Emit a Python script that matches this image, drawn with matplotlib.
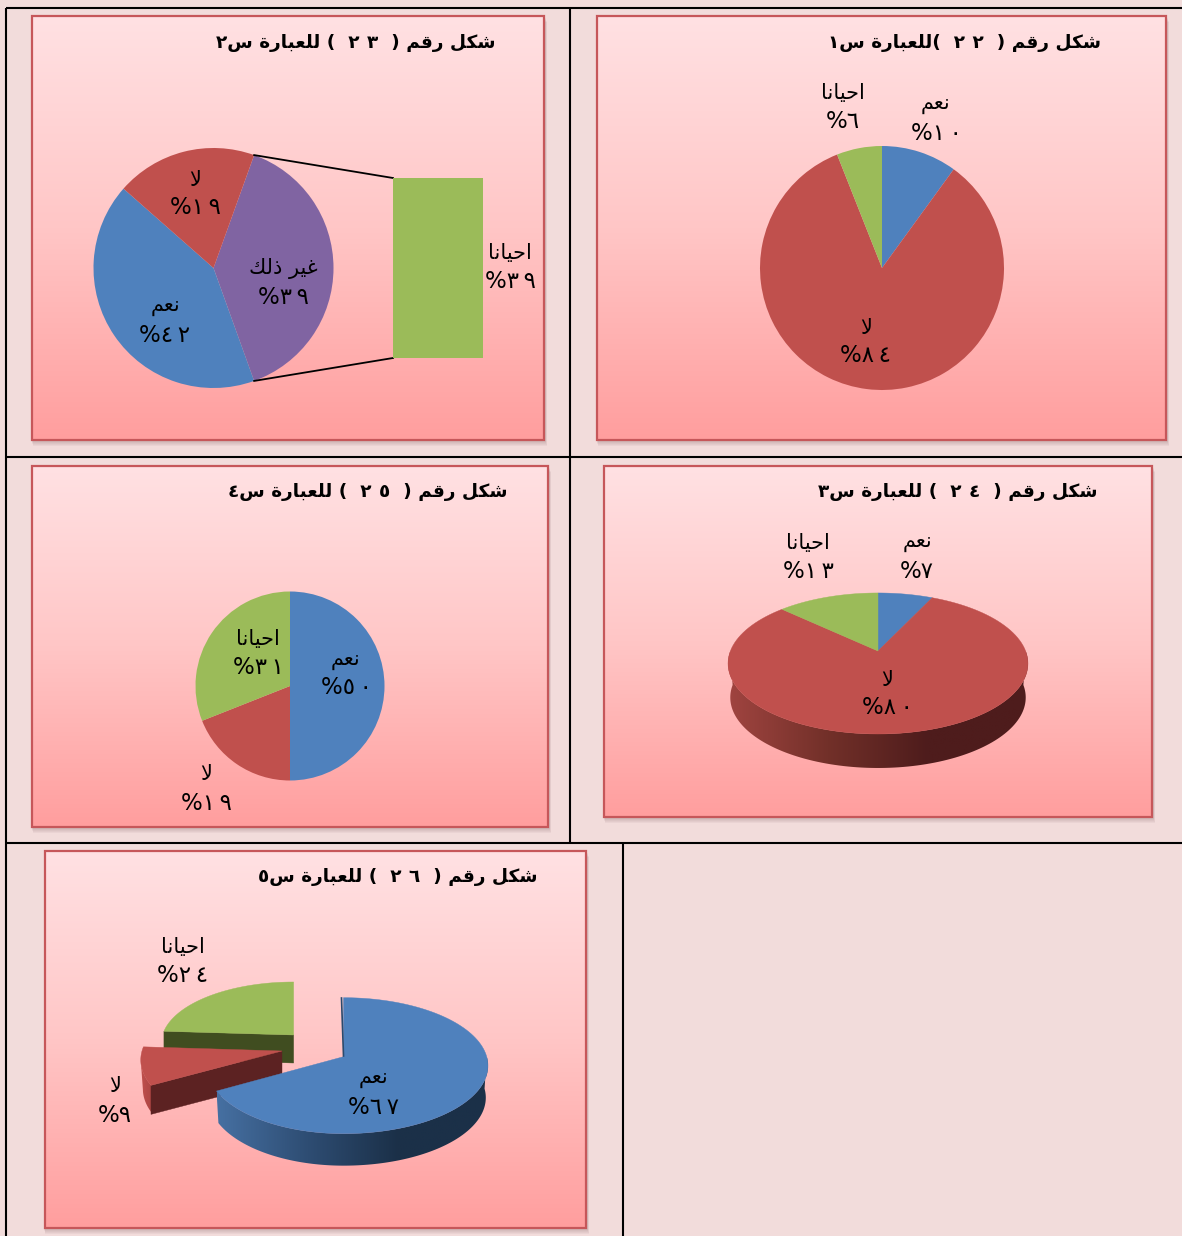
import re
import numpy as np
import matplotlib
matplotlib.use('Agg')
import matplotlib.pyplot as plt
from matplotlib.patches import Rectangle, Polygon
from matplotlib.colors import LinearSegmentedColormap

# ---------- data ----------
CATS_22 = ['نعم', 'لا', 'احيانا']
VALS_22 = [10, 84, 6]
CATS_23 = ['غير ذلك', 'نعم', 'لا']
VALS_23 = [39, 42, 19]
BAR_CAT_23 = 'احيانا'
BAR_VAL_23 = 39
CATS_24 = ['نعم', 'لا', 'احيانا']
VALS_24 = [7, 80, 13]
CATS_25 = ['نعم', 'لا', 'احيانا']
VALS_25 = [50, 19, 31]
CATS_26 = ['نعم', 'لا', 'احيانا']
VALS_26 = [67, 9, 24]
TITLE_22 = 'شكل رقم (  ٢٢  )للعبارة س١'
TITLE_23 = 'شكل رقم (  ٢٣  ) للعبارة س٢'
TITLE_24 = 'شكل رقم (  ٢٤  ) للعبارة س٣'
TITLE_25 = 'شكل رقم (  ٢٥  ) للعبارة س٤'
TITLE_26 = 'شكل رقم (  ٢٦  ) للعبارة س٥'

# ---------- styles ----------
BLUE, RED, GREEN, PURPLE = '#4F81BD', '#C0504D', '#9BBB59', '#8064A2'
PAGE = '#F2DCDB'
W, H = 1182, 1236
LABEL_FS = 15
PCT_FS = 16.5
TITLE_FS = 13.3

# ---------- Arabic shaping (matplotlib draws glyphs left to right, unjoined) ----------
FORMS = {
    'ا': (0xFE8D, 0xFE8E, None, None), 'ب': (0xFE8F, 0xFE90, 0xFE91, 0xFE92),
    'ة': (0xFE93, 0xFE94, None, None), 'ح': (0xFEA1, 0xFEA2, 0xFEA3, 0xFEA4),
    'ذ': (0xFEAB, 0xFEAC, None, None), 'ر': (0xFEAD, 0xFEAE, None, None),
    'س': (0xFEB1, 0xFEB2, 0xFEB3, 0xFEB4), 'ش': (0xFEB5, 0xFEB6, 0xFEB7, 0xFEB8),
    'ع': (0xFEC9, 0xFECA, 0xFECB, 0xFECC), 'غ': (0xFECD, 0xFECE, 0xFECF, 0xFED0),
    'ق': (0xFED5, 0xFED6, 0xFED7, 0xFED8), 'ك': (0xFED9, 0xFEDA, 0xFEDB, 0xFEDC),
    'ل': (0xFEDD, 0xFEDE, 0xFEDF, 0xFEE0), 'م': (0xFEE1, 0xFEE2, 0xFEE3, 0xFEE4),
    'ن': (0xFEE5, 0xFEE6, 0xFEE7, 0xFEE8), 'ي': (0xFEF1, 0xFEF2, 0xFEF3, 0xFEF4),
}
DIGITS = '٠١٢٣٤٥٦٧٨٩'
THIN = '\u2009'


def shape(text):
    """Return the visual, left-to-right form of a logical Arabic string."""
    text = text.replace('لا', '\uE000')
    out = []
    n = len(text)
    for i, c in enumerate(text):
        prev_joins = i > 0 and text[i - 1] in FORMS and FORMS[text[i - 1]][2] is not None
        next_joins = i + 1 < n and (text[i + 1] in FORMS or text[i + 1] == '\uE000')
        if c == '\uE000':
            out.append(chr(0xFEFC if prev_joins else 0xFEFB))
        elif c in FORMS:
            iso, fin, ini, med = FORMS[c]
            can_next = ini is not None and next_joins
            if prev_joins and can_next:
                out.append(chr(med))
            elif prev_joins:
                out.append(chr(fin))
            elif can_next:
                out.append(chr(ini))
            else:
                out.append(chr(iso))
        else:
            out.append(c)
    vis = ''.join(reversed(out))
    # digit runs keep left-to-right order and are set a little apart
    vis = re.sub('[' + DIGITS + ']+', lambda m: (THIN * 2).join(reversed(m.group(0))), vis)
    # the source shows the brackets unmirrored, so swap after reversing
    return vis.translate(str.maketrans('()', ')('))


def arabic_pct(v):
    return '%' + THIN.join(DIGITS[int(d)] for d in str(v))


fig = plt.figure(figsize=(W / 100, H / 100), dpi=100, facecolor=PAGE)
ax = fig.add_axes([0, 0, 1, 1])
ax.set_xlim(0, W)
ax.set_ylim(0, H)
ax.set_aspect('equal')
ax.axis('off')
ax.autoscale(False)


def Y(y):
    return H - y


# ---------- table rules ----------
for xs, ys in [((6, 1182), (8, 8)), ((6, 1182), (457, 457)), ((6, 1182), (843, 843)),
               ((6, 6), (8, 1236)), ((570, 570), (8, 843)), ((622.5, 622.5), (843, 1236))]:
    ax.plot(xs, [Y(v) for v in ys], color='black', lw=1.5, solid_capstyle='butt', zorder=1)

panel_cmap = LinearSegmentedColormap.from_list('panel', ['#FFE1E3', '#FFC6C6', '#FF9E9E'])


def panel(x0, y0, x1, y1):
    for i in range(6, 0, -1):
        ax.add_patch(Rectangle((x0 - 1 + i * 0.3, Y(y1) - i), x1 - x0 + 2, y1 - y0, fc='#8a6a6a',
                               ec='none', alpha=0.07, zorder=2))
    ax.imshow(np.linspace(0, 1, 256).reshape(-1, 1), cmap=panel_cmap, aspect='auto',
              extent=(x0, x1, Y(y1), Y(y0)), zorder=3, interpolation='bilinear')
    ax.add_patch(Rectangle((x0, Y(y1)), x1 - x0, y1 - y0, fc='none', ec='#C6575A', lw=1.6, zorder=4))


def title(txt, x_right, y):
    ax.text(x_right, Y(y + 1), shape(txt), ha='right', va='center', fontsize=TITLE_FS,
            fontweight='bold', family='DejaVu Sans', color='black', zorder=20)


def label(cat, val, x, y):
    ax.text(x, Y(y + 1.5), shape(cat), ha='center', va='center', fontsize=LABEL_FS,
            family='DejaVu Sans', color='black', zorder=20)
    ax.text(x, Y(y + 30), arabic_pct(val), ha='center', va='center', fontsize=PCT_FS,
            family='DejaVu Sans', color='black', zorder=20)


def flat_pie(vals, colors, cx, cy, r, start=90):
    wedges, _ = ax.pie(vals, colors=colors, startangle=start, counterclock=False,
                       center=(cx, Y(cy)), radius=r, frame=True,
                       wedgeprops={'linewidth': 0}, normalize=True)
    for w in wedges:
        w.set_zorder(6)
    ax.set_xlim(0, W)
    ax.set_ylim(0, H)
    ax.axis('off')


def persp(theta, cx, cy, rx, k, p, rxl=None):
    """theta clockwise from top, degrees -> screen x and y (up) of the tilted disc."""
    t = np.radians(theta)
    X, Yy = np.sin(t), np.cos(t)
    d = 1 + p * Yy
    r = np.where(X < 0, rx if rxl is None else rxl, rx)
    return cx + r * X / d, Y(cy) + k * Yy / d


def top(a, b, color, z, **g):
    th = np.linspace(a, b, 120)
    x, y = persp(th, **g)
    xy = np.column_stack([np.r_[g['cx'], x], np.r_[Y(g['cy']), y]])
    ax.add_patch(Polygon(xy, closed=True, fc=color, ec=color, lw=0.3, zorder=z))


def wall(a, b, stops, depth, z, **g):
    th = np.linspace(a, b, 120)
    x, y = persp(th, **g)
    xb = g['cx'] + (x - g['cx']) * 0.985
    poly = np.column_stack([np.r_[x, xb[::-1]], np.r_[y, (y - depth)[::-1]]])
    pg = Polygon(poly, closed=True, fc='none', ec='none', zorder=z)
    ax.add_patch(pg)
    cm = LinearSegmentedColormap.from_list('w', stops)
    im = ax.imshow(np.linspace(0, 1, 256).reshape(1, -1), cmap=cm, aspect='auto', zorder=z,
                   extent=(poly[:, 0].min(), poly[:, 0].max(), poly[:, 1].min(), poly[:, 1].max()))
    im.set_clip_path(pg)


def face(theta, color, depth, z, **g):
    x, y = persp(theta, **g)
    cx, cy = g['cx'], Y(g['cy'])
    ax.add_patch(Polygon([(cx, cy), (x, y), (x, y - depth), (cx, cy - depth)], closed=True,
                         fc=color, ec=color, lw=0.3, zorder=z))


panel(32, 16, 544, 440)
panel(597, 16, 1166, 440)
panel(32, 466, 548, 827)
panel(604, 466, 1152, 817)
panel(44.5, 851, 586, 1228)

# ---------- chart 22 ----------
title(TITLE_22, 1101, 42)
flat_pie(VALS_22, [BLUE, RED, GREEN], 882, 268, 122)
label(CATS_22[0], VALS_22[0], 936, 103)
label(CATS_22[1], VALS_22[1], 866, 326)
label(CATS_22[2], VALS_22[2], 843, 92)

# ---------- chart 23: pie of pie ----------
title(TITLE_23, 496, 42)
half = VALS_23[0] / sum(VALS_23) * 180
flat_pie(VALS_23, [PURPLE, BLUE, RED], 213.5, 268, 120, start=half)
bar_ax = fig.add_axes([393 / W, 1 - 358 / H, 90 / W, 180 / H])
bar_ax.bar([0], [BAR_VAL_23], width=1, color=GREEN)
bar_ax.set_xlim(-0.5, 0.5)
bar_ax.set_ylim(0, BAR_VAL_23)
bar_ax.axis('off')
dx, dy = 120 * np.cos(np.radians(half)), 120 * np.sin(np.radians(half))
ax.plot([213.5 + dx, 393], [Y(268) + dy, Y(178)], color='black', lw=1.3, zorder=7)
ax.plot([213.5 + dx, 393], [Y(268) - dy, Y(358)], color='black', lw=1.3, zorder=7)
label(CATS_23[2], VALS_23[2], 195, 178)
label(CATS_23[0], VALS_23[0], 283, 267)
label(CATS_23[1], VALS_23[1], 165, 305)
label(BAR_CAT_23, BAR_VAL_23, 510, 252)

# ---------- chart 24: tilted disc ----------
title(TITLE_24, 1098, 491)
d24 = dict(cx=878, cy=651, rx=147.6, k=68.3, p=0.177)
a = np.cumsum([0] + [v / sum(VALS_24) * 360 for v in VALS_24])
wall(90, 270, ['#A04440', '#723029', '#4E1C1C', '#4E1C1C'], depth=34, z=5, **d24)
top(a[0], a[1], BLUE, z=6, **d24)
top(a[1], a[2], RED, z=6, **d24)
top(a[2], a[3], GREEN, z=6, **d24)
label(CATS_24[0], VALS_24[0], 917, 541)
label(CATS_24[2], VALS_24[2], 808, 541)
label(CATS_24[1], VALS_24[1], 887, 678)

# ---------- chart 25 ----------
title(TITLE_25, 508, 491)
flat_pie(VALS_25, [BLUE, RED, GREEN], 290, 686, 94.5)
label(CATS_25[0], VALS_25[0], 346, 658)
label(CATS_25[1], VALS_25[1], 206, 773)
label(CATS_25[2], VALS_25[2], 258, 637)

# ---------- chart 26: exploded tilted disc ----------
title(TITLE_26, 538, 876)
a = np.cumsum([0] + [v / sum(VALS_26) * 360 for v in VALS_26])
d_g = dict(cx=293.6, cy=1035, rx=131, k=60, p=0.132)
d_r = dict(cx=282, cy=1051, rx=140, k=66.8, p=0.132)
d_b = dict(cx=343.5, cy=1056.7, rx=143.2, k=66.8, p=0.132, rxl=135.7)
face(a[2], '#404D20', depth=28, z=5, **d_g)
top(a[2], a[3], GREEN, z=6, **d_g)
wall(a[1], 262, ['#C0504D', '#A84442'], depth=29, z=7, **d_r)
face(a[1], '#5C2222', depth=29, z=8, **d_r)
top(a[1], a[2], RED, z=9, **d_r)
wall(90, a[1], ['#4670A2', '#2E4D73', '#1B3048', '#1B3048'], depth=32, z=10, **d_b)
top(a[0], a[1], BLUE, z=11, **d_b)
ax.plot([341.5, 343.5], [Y(998), Y(1056)], color='#2B4A6E', lw=1.2, zorder=12)
label(CATS_26[0], VALS_26[0], 373, 1077)
label(CATS_26[1], VALS_26[1], 115, 1085)
label(CATS_26[2], VALS_26[2], 183, 946)

fig.savefig('out.png', dpi=100, facecolor=PAGE)
